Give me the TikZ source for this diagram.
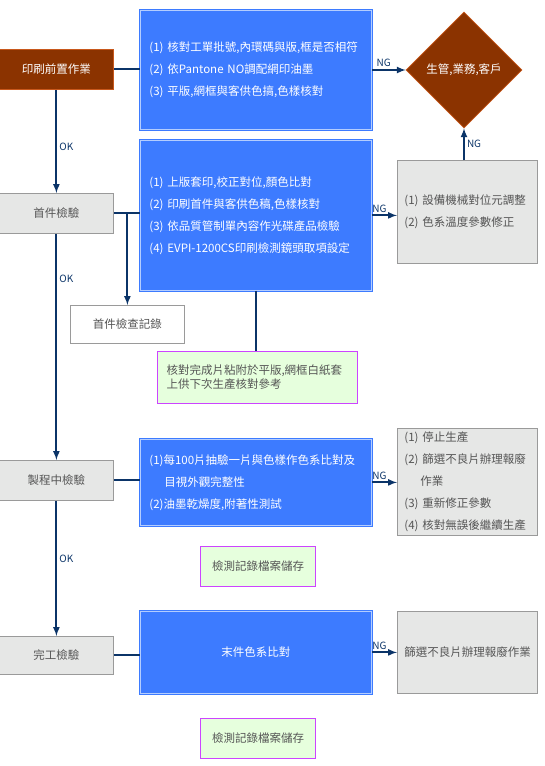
\documentclass[tikz,border=0pt]{standalone}
\usepackage{fontspec}
\setmainfont{Noto Sans CJK TC}
\usepackage{xcolor}
\usepackage{tikz}
\usetikzlibrary{calc, shapes.geometric, positioning}

\definecolor{navy}{HTML}{0B3468}
\definecolor{brownfill}{HTML}{8B3300}
\definecolor{brownline}{HTML}{C8581C}
\definecolor{bluefill}{HTML}{3D7BFF}
\definecolor{bluelight}{HTML}{B4CDFF}
\definecolor{grayfill}{HTML}{E6E7E6}
\definecolor{grayline}{HTML}{9A9A9A}
\definecolor{graytext}{HTML}{555555}
\definecolor{greenfill}{HTML}{E6FFDD}
\definecolor{violet}{HTML}{CC44FF}

\begin{document}
\begin{tikzpicture}[>=latex, x=1pt, y=-1pt,
    conn/.style={draw=navy, line width=2pt},
    lbl/.style={text=navy, font=\fontsize{10}{11}\selectfont, inner sep=2pt},
    stage/.style={fill=grayfill, draw=grayline, line width=0.8pt, text=graytext,
        minimum width=114pt, minimum height=40pt, anchor=north west,
        font=\fontsize{11.5}{13}\selectfont},
    chkbox/.style={fill=bluefill, draw=bluefill, double=bluelight, double distance=0.9pt,
        line width=0.8pt, text=white, align=left, text width=213pt, inner xsep=9pt,
        minimum width=231pt, anchor=north west, font=\fontsize{11.5}{22}\selectfont},
    fixbox/.style={fill=grayfill, draw=grayline, line width=0.8pt, text=graytext,
        align=left, text width=126pt, inner xsep=7pt, minimum width=140pt,
        anchor=north west, font=\fontsize{11.5}{22}\selectfont},
    notebox/.style={fill=greenfill, draw=violet, line width=1pt, text=graytext,
        anchor=north west, font=\fontsize{11.5}{14}\selectfont}]
    \useasboundingbox (0,0) rectangle (544,766);

    % 左欄各階段
    \node[stage, fill=brownfill, draw=brownline, text=white] (pre) at (-1,49) {印刷前置作業};
    \node[stage] (first) at (-1,193) {首件檢驗};
    \node[stage] (inproc) at (-1,460) {製程中檢驗};
    \node[stage, minimum height=38pt] (final) at (-1,636) {完工檢驗};
    \node[stage, fill=white, minimum height=38pt] (record) at (70,305) {首件檢查記錄};

    % 檢查內容
    \node[chkbox, minimum height=119pt] (chk1) at (140,10) {(1) 核對工單批號,內環碼與版,框是否相符\\
        (2) 依Pantone NO調配網印油墨\\
        (3) 平版,網框與客供色搞,色樣核對};
    \node[chkbox, minimum height=150pt] (chk2) at (140,140) {(1) 上版套印,校正對位,顏色比對\\
        (2) 印刷首件與客供色稿,色樣核對\\
        (3) 依品質管制單內容作光碟產品檢驗\\
        (4) EVPI-1200CS印刷檢測鏡頭取項設定};
    \node[chkbox, minimum height=86pt] (chk3) at (140,439) {(1)每100片抽驗一片與色樣作色系比對及\\
        \hspace*{15pt}目視外觀完整性\\
        (2)油墨乾燥度,附著性測試};
    \node[chkbox, minimum height=82pt, align=center] (chk4) at (140,611) {末件色系比對};

    % NG 處理
    \node[shape=diamond, fill=brownfill, draw=brownline, line width=0.6pt, text=white,
        minimum width=116pt, minimum height=116pt, inner sep=0pt,
        font=\fontsize{11.5}{13}\selectfont] (boss) at (464,70) {生管,業務,客戶};
    \node[fixbox, minimum height=103pt] (fix1) at (397,160) {(1) 設備機械對位元調整\\
        (2) 色系溫度參數修正};
    \node[fixbox, minimum height=107pt] (fix2) at (397,428) {(1) 停止生產\\
        (2) 篩選不良片辦理報廢\\
        \hspace*{16pt}作業\\
        (3) 重新修正參數\\
        (4) 核對無誤後繼續生產};
    \node[fixbox, minimum height=82pt] (fix3) at (397,611) {篩選不良片辦理報廢作業};

    % 記錄
    \node[notebox, align=left, text width=182pt, inner xsep=9pt, minimum height=52pt] (note1)
        at (157,351) {核對完成片粘附於平版,網框白紙套\\上供下次生產核對參考};
    \node[notebox, minimum width=115pt, minimum height=40pt] (note2) at (200,546) {檢測記錄檔案儲存};
    \node[notebox, minimum width=115pt, minimum height=40pt] (note3) at (200,718) {檢測記錄檔案儲存};

    % 連線
    \draw[conn, ->] (pre) -- node[lbl, right, pos=0.55] {OK} (first);
    \draw[conn, ->] (first) -- node[lbl, right, pos=0.2] {OK} (inproc);
    \draw[conn, ->] (inproc) -- node[lbl, right, pos=0.43] {OK} (final);

    \draw[conn] (pre.east) -- (pre.east -| chk1.west);
    \draw[conn] (first.east) -- (first.east -| chk2.west);
    \draw[conn, ->] (first.east -| record.north) -- (record.north);
    \draw[conn] (chk2.south) -- (chk2.south |- note1.north);
    \draw[conn] (inproc.east) -- (inproc.east -| chk3.west);
    \draw[conn] (final.east) -- (final.east -| chk4.west);

    \draw[conn, ->] (chk1.east |- boss.west) -- node[lbl, above, pos=0.35] {NG} (boss.west);
    \draw[conn, ->] (chk2.east) -- node[lbl, above, pos=0.3] {NG} (chk2.east -| fix1.west);
    \draw[conn, ->] (chk3.east) -- node[lbl, above, pos=0.3] {NG} (chk3.east -| fix2.west);
    \draw[conn, ->] (chk4.east) -- node[lbl, above, pos=0.3] {NG} (chk4.east -| fix3.west);
    \draw[conn, ->] (boss.south |- fix1.north) -- node[lbl, right] {NG} (boss.south);
\end{tikzpicture}
\end{document}
